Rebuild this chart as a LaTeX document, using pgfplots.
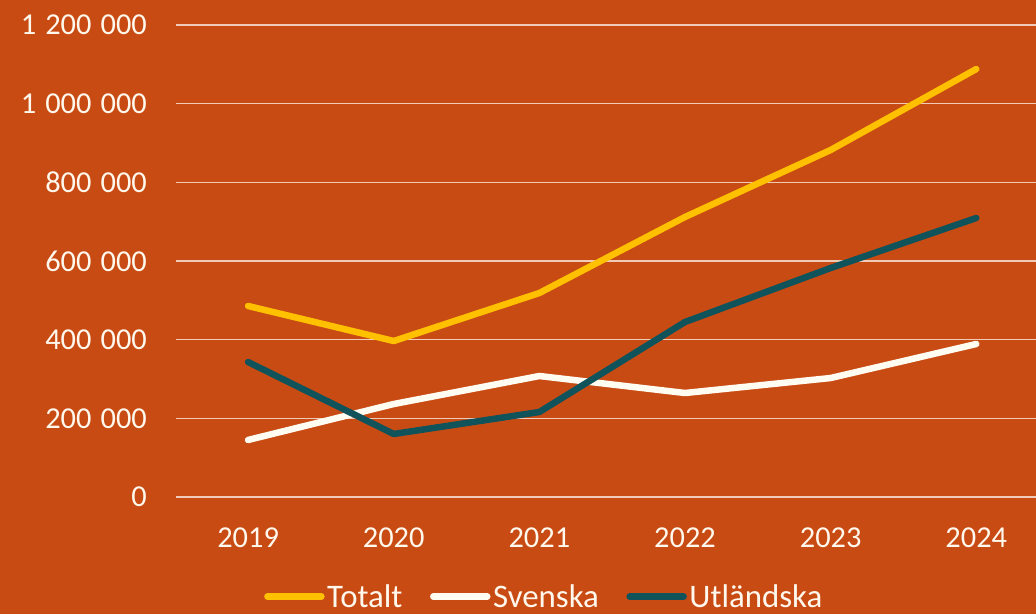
\documentclass[border=0pt]{standalone}
\usepackage{pgfplots}
\pgfplotsset{compat=1.18}
\usepackage{fontspec}
\setmainfont{Carlito}
\definecolor{bg}{HTML}{C94B14}
\definecolor{txt}{HTML}{FFF8EC}
\definecolor{grd}{HTML}{EFCBB8}
\definecolor{cTot}{HTML}{FFC000}
\definecolor{cSve}{HTML}{FFFCF2}
\definecolor{cUtl}{HTML}{10535A}
\begin{document}
\begin{tikzpicture}
\fill[bg,use as bounding box] (0,0) rectangle (1036bp,614bp);
\begin{axis}[
  at={(176bp,117bp)}, anchor=south west,
  scale only axis, width=860bp, height=472bp,
  xmin=-0.495, xmax=5.41, ymin=0, ymax=1200000,
  scaled y ticks=false,
  xtick={0,...,5}, xticklabels={2019,2020,2021,2022,2023,2024},
  ytick={0,200000,400000,600000,800000,1000000,1200000},
  yticklabels={0,200\hspace{0.3em}000,400\hspace{0.3em}000,600\hspace{0.3em}000,800\hspace{0.3em}000,1\hspace{0.3em}000\hspace{0.3em}000,1\hspace{0.3em}200\hspace{0.3em}000},
  axis line style={draw=none}, major tick length=0pt,
  ymajorgrids, major grid style={color=grd, line width=1.6bp},
  tick label style={font=\fontsize{30.5}{36}\selectfont, text=txt, inner sep=0pt},
  yticklabel style={anchor=east, xshift=-29bp},
  xticklabel style={anchor=north, yshift=-31bp},
  legend style={at={(axis description cs:0.4285,-0.211)}, anchor=center, draw=none, fill=none,
    font=\fontsize{33}{38}\selectfont, text=txt, legend columns=-1,
    nodes={inner sep=2.5bp},
    /tikz/every even column/.append style={column sep=25bp}},
  legend image code/.code={\draw[#1] (0bp,0bp) -- (54bp,0bp);},
  every axis plot/.append style={line width=6.5bp, line cap=round, line join=round},
]
\addplot[cTot] coordinates {(0,485600) (1,396600) (2,518600) (3,711900) (4,882200) (5,1088000)};
\addlegendentry{Totalt}
\addplot[cSve] coordinates {(0,145000) (1,236400) (2,307600) (3,264400) (4,302500) (5,389000)};
\addlegendentry{Svenska}
\addplot[cUtl] coordinates {(0,343200) (1,160200) (2,216100) (3,444900) (4,582200) (5,709300)};
\addlegendentry{Utländska}
\end{axis}
\end{tikzpicture}
\end{document}
